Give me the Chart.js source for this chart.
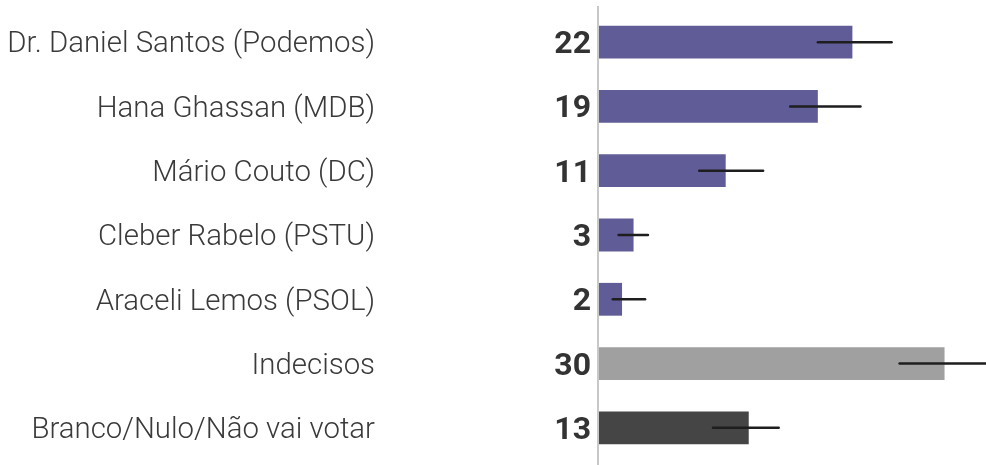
<!DOCTYPE html>
<html>
<head>
<meta charset="utf-8">
<script src="https://cdn.jsdelivr.net/npm/chart.js@4"></script>
<style>
  html, body { margin: 0; padding: 0; background: #fff; }
  #wrap { width: 986px; height: 465px; }
</style>
</head>
<body>
<div id="wrap"><canvas id="barChart" width="986" height="465"></canvas></div>
<script>
// dados da pesquisa
const categorias = [
    'Dr. Daniel Santos (Podemos)',
    'Hana Ghassan (MDB)',
    'Mário Couto (DC)',
    'Cleber Rabelo (PSTU)',
    'Araceli Lemos (PSOL)',
    'Indecisos',
    'Branco/Nulo/Não vai votar'
];
const valores = [22, 19, 11, 3, 2, 30, 13];
const erroMin = [19.0, 16.6, 8.7, 1.7, 1.2, 26.1, 9.9];
const erroMax = [25.4, 22.7, 14.25, 4.25, 4.0, 34.5, 15.6];
const cores = ['#605c97', '#605c97', '#605c97', '#605c97', '#605c97', '#a0a0a0', '#454545'];

// plugin: linha do eixo, nomes, valores em negrito e barras de erro
const extras = {
    id: 'extras',
    beforeDatasetsDraw(chart) {
        const ctx = chart.ctx;
        const x = chart.chartArea.left - 1;
        ctx.save();
        ctx.strokeStyle = '#c8c8c8';
        ctx.lineWidth = 2;
        ctx.beginPath();
        ctx.moveTo(x, 6);
        ctx.lineTo(x, chart.height);
        ctx.stroke();
        ctx.restore();
    },
    afterDatasetsDraw(chart) {
        const ctx = chart.ctx;
        const xs = chart.scales.x;
        const ys = chart.scales.y;
        const left = chart.chartArea.left;

        // barras de erro
        ctx.save();
        ctx.beginPath();
        ctx.rect(left, 0, chart.width - left, chart.height);
        ctx.clip();
        ctx.strokeStyle = '#1e1e1e';
        ctx.lineWidth = 2.5;
        ctx.lineCap = 'round';
        valores.forEach((v, i) => {
            const y = ys.getPixelForValue(i);
            ctx.beginPath();
            ctx.moveTo(xs.getPixelForValue(erroMin[i]), y);
            ctx.lineTo(xs.getPixelForValue(erroMax[i]), y);
            ctx.stroke();
        });
        ctx.restore();

        ctx.save();
        ctx.textAlign = 'right';
        ctx.textBaseline = 'middle';
        // nomes
        ctx.fillStyle = '#3a3a3a';
        ctx.font = '300 29.4px Roboto';
        categorias.forEach((c, i) => {
            ctx.fillText(c, left - 224, ys.getPixelForValue(i) + 3);
        });
        // valores
        ctx.fillStyle = '#333333';
        ctx.font = 'bold 32px Roboto';
        valores.forEach((v, i) => {
            ctx.fillText(String(v), left - 8, ys.getPixelForValue(i) + 3);
        });
        ctx.restore();
    }
};

const ctx = document.getElementById('barChart').getContext('2d');
new Chart(ctx, {
    type: 'bar',
    data: {
        labels: categorias,
        datasets: [{
            data: valores,
            backgroundColor: cores,
            categoryPercentage: 1,
            barPercentage: 0.51
        }]
    },
    options: {
        indexAxis: 'y',
        responsive: false,
        animation: false,
        layout: { padding: { left: 599, top: 10, bottom: 5 } },
        plugins: {
            legend: { display: false },
            tooltip: { enabled: false }
        },
        scales: {
            x: {
                display: false,
                min: 0,
                max: 33.6
            },
            y: {
                display: false
            }
        }
    },
    plugins: [extras]
});
</script>
</body>
</html>
